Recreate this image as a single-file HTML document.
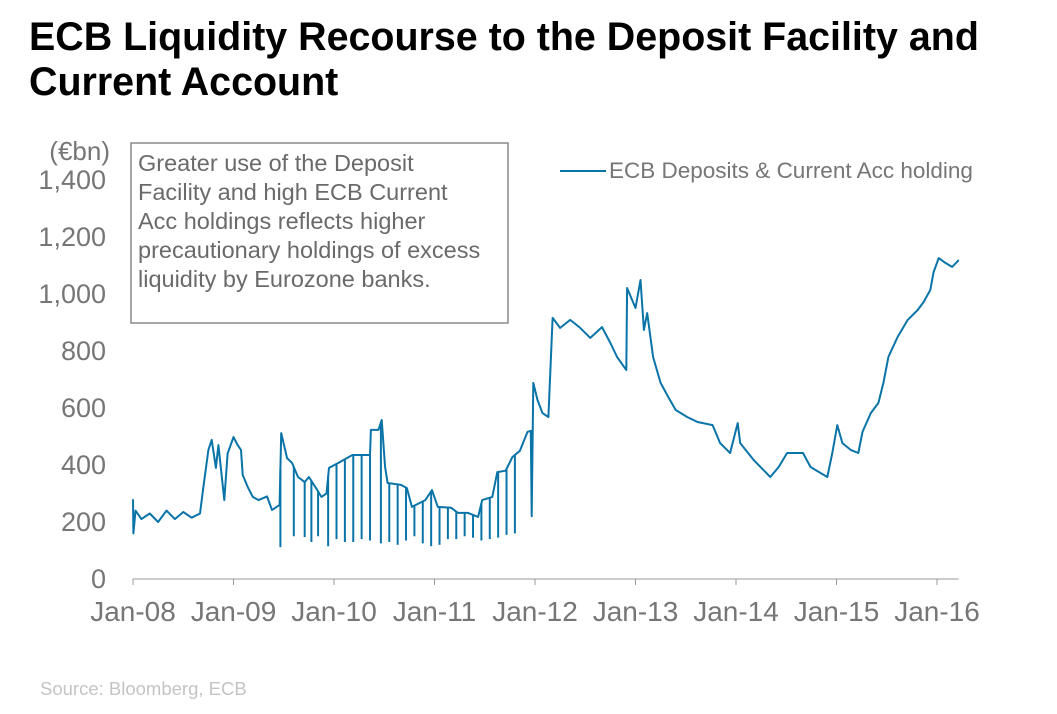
<!DOCTYPE html>
<html><head><meta charset="utf-8"><style>
body{margin:0;background:#fff;width:1057px;height:709px;overflow:hidden;font-family:"Liberation Sans",Arial,sans-serif}
svg text{font-family:"Liberation Sans",Arial,sans-serif}
</style></head><body>
<svg id="chart" width="1057" height="709" viewBox="0 0 1057 709">
<text x="29" y="50" font-size="39.4" font-weight="bold" fill="#000">ECB Liquidity Recourse to the Deposit Facility and</text>
<text x="29" y="95" font-size="39.4" font-weight="bold" fill="#000">Current Account</text>
<text x="110" y="160" font-size="26" fill="#767676" text-anchor="end">(€bn)</text>
<g id="yticks"></g>
<g id="xticks"></g>
<path id="series" fill="none" stroke="#0a74a8" stroke-width="2" stroke-linejoin="round"></path>
<g id="spikes"></g>
<rect x="131" y="143" width="377" height="180" fill="#fff" stroke="#8a8a8a" stroke-width="1.5"></rect>
<text font-size="23.5" fill="#6a6a6a">
<tspan x="138" y="171">Greater use of the Deposit</tspan>
<tspan x="138" y="200">Facility and high ECB Current</tspan>
<tspan x="138" y="229">Acc holdings  reflects higher</tspan>
<tspan x="138" y="258">precautionary holdings of excess</tspan>
<tspan x="138" y="287">liquidity by Eurozone banks.</tspan>
</text>
<line x1="560" y1="171" x2="606" y2="171" stroke="#0a74a8" stroke-width="2"></line>
<text x="609" y="178" font-size="22.5" fill="#767676">ECB Deposits &amp; Current Acc holding</text>
<text x="40" y="695" font-size="18.5" fill="#c4c4c4">Source: Bloomberg, ECB</text>
</svg>
<script>
// months since Jan-08 and values (€bn)
const months=[0,0.05,0.3,1,2,3,4,5,6,7,8,8.4,9,9.4,9.9,10.2,10.9,11.3,12,12.5,12.9,13.1,13.7,14.3,15,16,16.6,17.5,17.7,18.4,19,19.7,20.5,21,22,22.5,23.1,23.4,24.5,26.2,28.3,28.4,29.3,29.7,30.1,30.4,32,32.7,33.3,34.9,35.7,36.4,38,38.8,40,41.2,41.7,42.9,43.5,44.5,45.3,46.2,47.1,47.5,47.6,47.8,48.3,48.9,49.6,50.1,51,52.2,53.4,54.6,56,57,57.8,58.9,59,60,60.6,61,61.4,62.1,63,63.9,64.8,66.2,67.4,69.2,70.1,71.3,72.2,72.5,74.1,76.1,77.1,78.1,80,80.9,82.9,83.5,84.1,84.7,85.7,86.6,87.1,88.1,89,89.6,90.2,91.3,92.5,93.7,94.4,95.2,95.6,96.2,97,97.8,98.6];
const values=[280,160,240,210,230,200,240,210,235,215,230,323,453,488,390,470,277,440,498,470,453,365,323,288,277,290,242,260,512,424,407,358,340,358,312,288,300,390,407,435,435,523,523,558,393,337,330,319,253,277,312,253,250,232,232,218,277,288,375,380,428,450,516,520,220,688,628,582,568,916,881,909,881,846,884,828,779,733,1021,951,1049,874,933,779,688,639,593,568,551,540,477,442,547,477,418,358,393,442,442,393,358,442,540,477,453,442,516,582,618,688,779,849,909,944,972,1014,1077,1126,1109,1095,1119];
const spikeMonths=[17.6,19.2,20.5,21.3,22.1,23.3,24.3,25.3,26.3,27.3,28.3,29.6,30.6,31.6,32.6,33.6,34.6,35.6,36.6,37.6,38.6,39.6,40.6,41.6,42.6,43.6,44.6,45.6];
const spikeValues=[112,150,147,130,150,115,140,130,130,140,135,125,130,120,135,150,125,115,120,140,140,150,145,135,140,145,155,160];
const yTickValues=[0,200,400,600,800,1000,1200,1400];
const yTickLabels=["0","200","400","600","800","1,000","1,200","1,400"];
const xTickMonths=[0,12,24,36,48,60,72,84,96];
const xTickLabels=["Jan-08","Jan-09","Jan-10","Jan-11","Jan-12","Jan-13","Jan-14","Jan-15","Jan-16"];

const X=m=>133+m*(937-133)/96;
const Y=v=>579-v*(579-180)/1400;
const NS="http://www.w3.org/2000/svg";
const yg=document.getElementById('yticks');
yTickValues.forEach((v,i)=>{const t=document.createElementNS(NS,'text');


t.setAttribute('x',106);t.setAttribute('y',Y(v)+9);t.setAttribute('font-size','27');t.setAttribute('fill','#767676');t.setAttribute('text-anchor','end');t.textContent=yTickLabels[i];yg.appendChild(t);});
const xg=document.getElementById('xticks');
const ax=document.createElementNS(NS,'line');


ax.setAttribute('x1',X(0));ax.setAttribute('x2',X(98.6));ax.setAttribute('y1',579);ax.setAttribute('y2',579);ax.setAttribute('stroke','#999');xg.appendChild(ax);
xTickMonths.forEach((m,i)=>{const l=document.createElementNS(NS,'line');


l.setAttribute('x1',X(m));l.setAttribute('x2',X(m));l.setAttribute('y1',579);l.setAttribute('y2',585);l.setAttribute('stroke','#999');xg.appendChild(l);
const t=document.createElementNS(NS,'text');


t.setAttribute('x',X(m));t.setAttribute('y',621);t.setAttribute('font-size','28');t.setAttribute('fill','#767676');t.setAttribute('text-anchor','middle');t.textContent=xTickLabels[i];xg.appendChild(t);});
document.getElementById('series').setAttribute('d',months.map((m,i)=>(i?'L':'M')+X(m).toFixed(1)+' '+Y(values[i]).toFixed(1)).join(''));
function base(m){for(let i=1;i<months.length;i++){if(months[i]>=m){const f=(m-months[i-1])/(months[i]-months[i-1]||1);return values[i-1]+f*(values[i]-values[i-1]);}}return values[values.length-1];}
const sg=document.getElementById('spikes');
spikeMonths.forEach((m,i)=>{const l=document.createElementNS(NS,'line');


l.setAttribute('x1',X(m));l.setAttribute('x2',X(m));l.setAttribute('y1',Y(base(m)));l.setAttribute('y2',Y(spikeValues[i]));l.setAttribute('stroke','#0a74a8');l.setAttribute('stroke-width','2');sg.appendChild(l);});
</script>
</body></html>
